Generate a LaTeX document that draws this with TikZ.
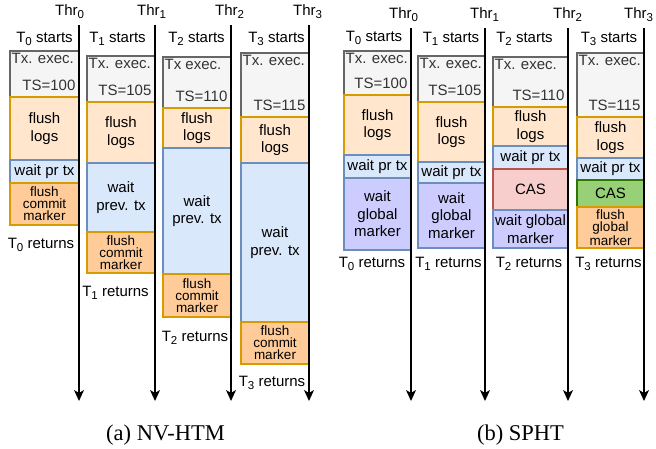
\documentclass[tikz,border=0pt]{standalone}
\usepackage{fontspec}
\setmainfont{Liberation Sans}
\newfontfamily\capfont{Liberation Serif}
\usetikzlibrary{fit,arrows.meta}
\definecolor{cGf}{HTML}{F5F5F5}\definecolor{cGd}{HTML}{666666}
\definecolor{cOf}{HTML}{FFE6CC}\definecolor{cOd}{HTML}{D79B00}
\definecolor{cBf}{HTML}{DAE8FC}\definecolor{cBd}{HTML}{6C8EBF}
\definecolor{cDf}{HTML}{FFCC99}
\definecolor{cLf}{HTML}{CCCCFF}
\definecolor{cRf}{HTML}{F8CECC}\definecolor{cRd}{HTML}{B85450}
\definecolor{cVf}{HTML}{97D077}\definecolor{cVd}{HTML}{2D7600}
\definecolor{cTx}{HTML}{333333}
\newcommand\sbs[1]{\raisebox{-3.2pt}{\fontsize{11.5}{11.5}\selectfont #1}}
\tikzset{
  bx/.style={inner sep=0pt, line width=1.2pt},
  gbox/.style={bx, draw=cGd, fill=cGf},
  obox/.style={bx, draw=cOd, fill=cOf},
  bbox/.style={bx, draw=cBd, fill=cBf},
  dbox/.style={bx, draw=cOd, fill=cDf},
  lbox/.style={bx, draw=cBd, fill=cLf},
  rbox/.style={bx, draw=cRd, fill=cRf},
  vbox/.style={bx, draw=cVd, fill=cVf},
  txt/.style={font=\fontsize{15}{17.5}\selectfont, inner sep=0pt, align=center},
  tight/.style={font=\fontsize{13.5}{12}\selectfont, inner sep=0pt, align=center},
  gtxt/.style={font=\fontsize{15}{17.5}\selectfont, inner sep=0pt, text=cTx},
  lbl/.style={font=\fontsize{15}{17.5}\selectfont, inner sep=0pt},
  axis/.style={line width=1.4pt, -{Stealth[length=11pt,width=10pt,inset=3pt]}},
  captxt/.style={font=\capfont\fontsize{22.5}{26}\selectfont, inner sep=0pt},
}
% \Bx{name}{boxstyle}{x1}{y1}{x2}{y2}{textstyle}{text}
\newcommand\Bx[8]{%
  \node[#2, fit={(#3,#4) (#5,#6)}] (#1) {};
  \node[#7] (#1t) at (#1.center) {#8};}
% \Gx{name}{x1}{y1}{x2}{y2}{top text}{ts text}
\newcommand\Gx[7]{%
  \node[gbox, fit={(#2,#3) (#4,#5)}] (#1) {};
  \node[gtxt, anchor=north west] (#1a) at ([shift={(2,2.5)}]#1.north west) {#6};
  \node[gtxt, anchor=base east] (#1b) at ([shift={(-4,-7)}]#1.south east) {#7};}
\begin{document}
\begin{tikzpicture}[x=1pt,y=-1pt]
\useasboundingbox (0,0) rectangle (656,448);

% ---------------- panel (a) ----------------
% Thr0
\Gx{a0g}{10}{51}{79}{97}{Tx. exec.}{TS=100}
\Bx{a0o}{obox}{10}{97}{79}{160}{txt}{flush\\logs}
\Bx{a0b}{bbox}{10}{160}{79}{183}{txt}{wait pr tx}
\Bx{a0d}{dbox}{10}{183}{79}{225}{tight}{flush\\commit\\marker}
% Thr1
\Gx{a1g}{87}{56}{155}{102}{Tx. exec.}{TS=105}
\Bx{a1o}{obox}{87}{102}{155}{163}{txt}{flush\\logs}
\Bx{a1b}{bbox}{87}{163}{155}{232}{txt}{wait\\prev. tx}
\Bx{a1d}{dbox}{87}{232}{155}{273}{tight}{flush\\commit\\marker}
% Thr2
\Gx{a2g}{163}{57}{231}{108}{Tx exec.}{TS=110}
\Bx{a2o}{obox}{163}{108}{231}{148}{txt}{flush\\logs}
\Bx{a2b}{bbox}{163}{148}{231}{274}{txt}{wait\\prev. tx}
\Bx{a2d}{dbox}{163}{274}{231}{317}{tight}{flush\\commit\\marker}
% Thr3
\Gx{a3g}{241}{53}{309}{117}{Tx. exec.}{TS=115}
\Bx{a3o}{obox}{241}{117}{309}{163}{txt}{flush\\logs}
\Bx{a3b}{bbox}{241}{163}{309}{322}{txt}{wait\\prev. tx}
\Bx{a3d}{dbox}{241}{322}{309}{364}{tight}{flush\\commit\\marker}

% axes (a)
\coordinate (a0top) at (79,25);  \coordinate (a0bot) at (79,401);
\coordinate (a1top) at (155,25); \coordinate (a1bot) at (155,401);
\coordinate (a2top) at (231,25); \coordinate (a2bot) at (231,401);
\coordinate (a3top) at (309,25); \coordinate (a3bot) at (309,401);
\draw[axis] (a0top) -- (a0bot);
\draw[axis] (a1top) -- (a1bot);
\draw[axis] (a2top) -- (a2bot);
\draw[axis] (a3top) -- (a3bot);

\node[lbl, anchor=base west] (a0thr) at (55,15) {Thr\sbs{0}};
\node[lbl, anchor=base west] (a1thr) at (137,15) {Thr\sbs{1}};
\node[lbl, anchor=base west] (a2thr) at (215,15) {Thr\sbs{2}};
\node[lbl, anchor=base west] (a3thr) at (293,15) {Thr\sbs{3}};

\node[lbl, anchor=base] (a0s) at (44.5,42) {T\sbs{0} starts};
\node[lbl, anchor=base] (a1s) at (117.5,42.5) {T\sbs{1} starts};
\node[lbl, anchor=base] (a2s) at (196.5,42) {T\sbs{2} starts};
\node[lbl, anchor=base] (a3s) at (276.5,42) {T\sbs{3} starts};

\node[lbl, anchor=base] (a0r) at (41,248) {T\sbs{0} returns};
\node[lbl, anchor=base] (a1r) at (115.5,296.5) {T\sbs{1} returns};
\node[lbl, anchor=base] (a2r) at (195,341.5) {T\sbs{2} returns};
\node[lbl, anchor=base] (a3r) at (272,386.5) {T\sbs{3} returns};

% ---------------- panel (b) ----------------
% Thr0
\Gx{b0g}{344}{51}{411}{95}{Tx. exec.}{TS=100}
\Bx{b0o}{obox}{344}{95}{411}{155}{txt}{flush\\logs}
\Bx{b0b}{bbox}{344}{155}{411}{178}{txt}{wait pr tx}
\Bx{b0l}{lbox}{344}{178}{411}{250}{txt}{wait\\global\\marker}
% Thr1
\Gx{b1g}{418}{56}{485}{102}{Tx. exec.}{TS=105}
\Bx{b1o}{obox}{418}{102}{485}{162}{txt}{flush\\logs}
\Bx{b1b}{bbox}{418}{162}{485}{183}{txt}{wait pr tx}
\Bx{b1l}{lbox}{418}{183}{485}{248}{txt}{wait\\global\\marker}
% Thr2
\Gx{b2g}{493}{57}{568}{107}{Tx. exec.}{TS=110}
\Bx{b2o}{obox}{493}{107}{568}{146}{txt}{flush\\logs}
\Bx{b2b}{bbox}{493}{146}{568}{169}{txt}{wait pr tx}
\Bx{b2r}{rbox}{493}{169}{568}{210}{txt}{CAS}
\Bx{b2l}{lbox}{493}{210}{568}{248}{txt}{wait global\\marker}
% Thr3
\Gx{b3g}{577}{53}{644}{117}{Tx. exec.}{TS=115}
\Bx{b3o}{obox}{577}{117}{644}{158}{txt}{flush\\logs}
\Bx{b3b}{bbox}{577}{158}{644}{180}{txt}{wait pr tx}
\Bx{b3v}{vbox}{577}{180}{644}{207}{txt}{CAS}
\Bx{b3d}{dbox}{577}{207}{644}{248}{tight}{flush\\global\\marker}

% axes (b)
\coordinate (b0top) at (411,28); \coordinate (b0bot) at (411,401);
\coordinate (b1top) at (485,28); \coordinate (b1bot) at (485,401);
\coordinate (b2top) at (568,28); \coordinate (b2bot) at (568,401);
\coordinate (b3top) at (644,28); \coordinate (b3bot) at (644,401);
\draw[axis] (b0top) -- (b0bot);
\draw[axis] (b1top) -- (b1bot);
\draw[axis] (b2top) -- (b2bot);
\draw[axis] (b3top) -- (b3bot);

\node[lbl, anchor=base west] (b0thr) at (389,18) {Thr\sbs{0}};
\node[lbl, anchor=base west] (b1thr) at (470,18) {Thr\sbs{1}};
\node[lbl, anchor=base west] (b2thr) at (553,18) {Thr\sbs{2}};
\node[lbl, anchor=base west] (b3thr) at (624,18) {Thr\sbs{3}};

\node[lbl, anchor=base] (b0s) at (374,41) {T\sbs{0} starts};
\node[lbl, anchor=base] (b1s) at (451,42) {T\sbs{1} starts};
\node[lbl, anchor=base] (b2s) at (524.5,42) {T\sbs{2} starts};
\node[lbl, anchor=base] (b3s) at (609,42) {T\sbs{3} starts};

\node[lbl, anchor=base] (b0r) at (372,267) {T\sbs{0} returns};
\node[lbl, anchor=base] (b1r) at (448.5,267) {T\sbs{1} returns};
\node[lbl, anchor=base] (b2r) at (529,267) {T\sbs{2} returns};
\node[lbl, anchor=base] (b3r) at (608.5,267) {T\sbs{3} returns};

% captions
\node[captxt, anchor=base] (capa) at (165.5,440) {(a) NV-HTM};
\node[captxt, anchor=base] (capb) at (520.5,440) {(b) SPHT};
\end{tikzpicture}
\end{document}
